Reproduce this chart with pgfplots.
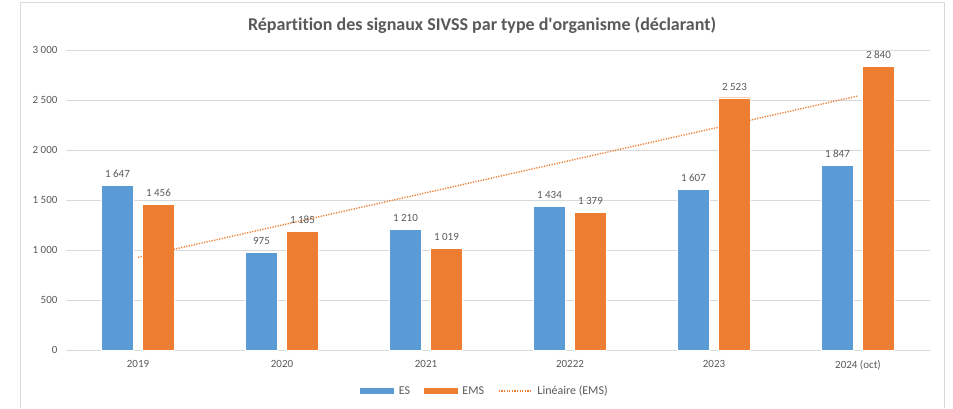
\documentclass[border=0pt]{standalone}
\usepackage{fontspec}
\setmainfont{Carlito}[Ligatures={NoCommon}]
\usepackage{pgfplots}
\pgfplotsset{compat=1.18}
\definecolor{esblue}{HTML}{5B9BD5}
\definecolor{emsorange}{HTML}{ED7D31}
\definecolor{txtgray}{HTML}{595959}
\definecolor{gridgray}{HTML}{D9D9D9}
\begin{document}
\begin{tikzpicture}
\path[use as bounding box] (0pt,0pt) rectangle (953pt,408pt);
\draw[gridgray, line width=1pt] (20pt,0pt) -- (20pt,405pt) -- (944pt,405pt) -- (944pt,0pt);
\node[text=txtgray, font=\fontsize{18}{21}\selectfont\bfseries] at (482pt,383pt) {Répartition des signaux SIVSS par type d\textquotesingle organisme (déclarant)};
\begin{axis}[
  at={(66pt,58pt)}, anchor=south west,
  scale only axis, width=864pt, height=300pt,
  xmin=-0.5, xmax=5.5, ymin=0, ymax=3000,
  xtick={0,1,2,3,4,5},
  xticklabels={2019,2020,2021,20222,2023,2024 (oct)},
  ytick={0,500,1000,1500,2000,2500,3000},
  axis line style={draw=none},
  major tick length=0pt,
  ymajorgrids, grid style={gridgray, line width=1pt},
  tick label style={text=txtgray, font=\fontsize{11}{13}\selectfont},
  yticklabel style={xshift=-5pt},
  xticklabel style={yshift=-7pt},
  /pgf/number format/assume math mode=true,
  /pgf/number format/1000 sep={\ },
  clip=false,
  legend style={at={(0.485,-0.137)}, anchor=center, draw=none, fill=none, legend columns=-1,
    font=\fontsize{12}{14}\selectfont, text=txtgray,
    /tikz/every odd column/.append style={column sep=3pt},
    /tikz/every even column/.append style={column sep=12pt}},
]
\draw[gridgray, line width=1pt] (axis cs:-0.5,0) -- (axis cs:5.5,0);
\addplot[ybar, bar width=32pt, bar shift=-20.5pt, fill=esblue, draw=white, line width=0.4pt,
  nodes near coords,
  every node near coord/.append style={text=txtgray, font=\fontsize{11}{13}\selectfont, xshift=-20.5pt, yshift=4pt},
  legend image code/.code={\fill[esblue] (0pt,-2.5pt) rectangle (33pt,2.5pt);}]
  coordinates {(0,1647) (1,975) (2,1210) (3,1434) (4,1607) (5,1847)};
\addlegendentry{ES}
\addplot[ybar, bar width=32pt, bar shift=20.5pt, fill=emsorange, draw=white, line width=0.4pt,
  nodes near coords,
  every node near coord/.append style={text=txtgray, font=\fontsize{11}{13}\selectfont, xshift=20.5pt, yshift=4pt},
  legend image code/.code={\fill[emsorange] (0pt,-2.5pt) rectangle (33pt,2.5pt);}]
  coordinates {(0,1456) (1,1185) (2,1019) (3,1379) (4,2523) (5,2840)};
\addlegendentry{EMS}
\addplot[emsorange, line width=1.4pt, dash pattern=on 1.2pt off 1.4pt, mark=none,
  legend image code/.code={\draw[emsorange, line width=1.4pt, dash pattern=on 1.2pt off 1.4pt] (0pt,0pt) -- (33pt,0pt);}]
  coordinates {(0,926.9) (5,2540.4)};
\addlegendentry{Linéaire (EMS)}
\end{axis}
\end{tikzpicture}
\end{document}
